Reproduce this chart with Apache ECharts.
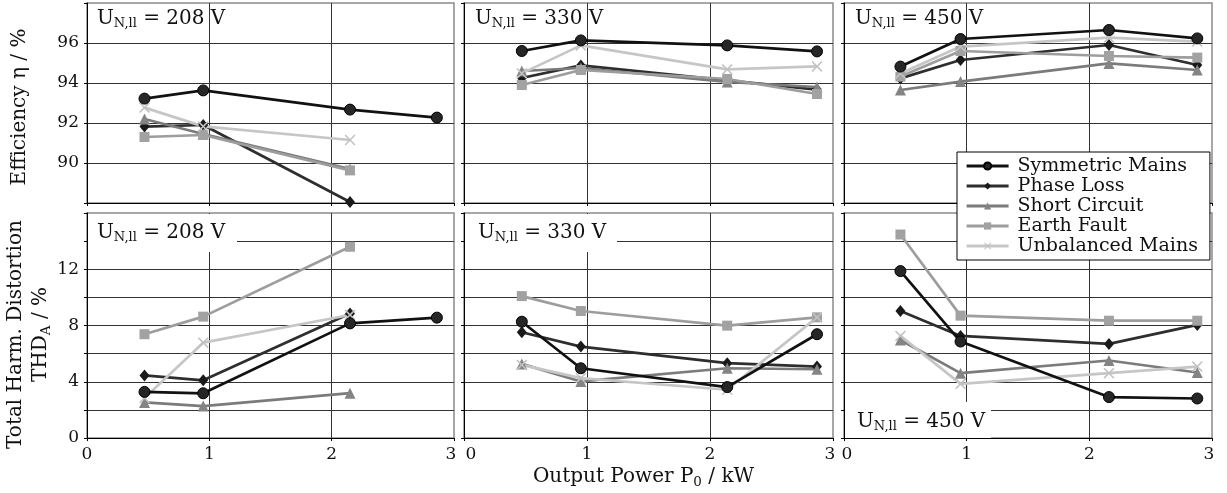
<!DOCTYPE html>
<html>
<head>
<meta charset="utf-8">
<script src="https://cdn.jsdelivr.net/npm/echarts@6/dist/echarts.min.js"></script>
<style>
  html, body { margin: 0; padding: 0; background: #fff; }
  #chart { width: 1227px; height: 493px; }
</style>
</head>
<body>
<div id="chart"></div>
<script>
// series names (legend order)
const seriesNames = ["Symmetric Mains", "Phase Loss", "Short Circuit", "Earth Fault", "Unbalanced Mains"];

// output power in kW for each mains voltage
const power208 = [0.47, 0.95, 2.15, 2.86];
const power330 = [0.47, 0.95, 2.14, 2.87];
const power450 = [0.46, 0.95, 2.16, 2.88];

// efficiency in %, one row per series
const eff208 = [
  [93.22, 93.63, 92.67, 92.27],
  [91.82, 91.9, 88.05, null],
  [92.2, 91.45, 89.7, null],
  [91.3, 91.4, 89.63, null],
  [92.77, 91.83, 91.15, null],
];
const eff330 = [
  [95.6, 96.13, 95.88, 95.58],
  [94.25, 94.88, 94.13, 93.67],
  [94.6, 94.75, 94.05, 93.8],
  [93.9, 94.65, 94.2, 93.45],
  [94.48, 95.88, 94.68, 94.83],
];
const eff450 = [
  [94.82, 96.2, 96.65, 96.23],
  [94.23, 95.15, 95.9, 94.9],
  [93.65, 94.07, 94.98, 94.65],
  [94.32, 95.6, 95.35, 95.27],
  [94.48, 95.82, 96.27, 96.07],
];

// THD of the current in %, one row per series
const thd208 = [
  [3.28, 3.18, 8.15, 8.56],
  [4.45, 4.1, 8.86, null],
  [2.53, 2.27, 3.19, null],
  [7.38, 8.63, 13.6, null],
  [2.84, 6.78, 8.75, null],
];
const thd330 = [
  [8.27, 4.96, 3.62, 7.38],
  [7.52, 6.5, 5.32, 5.08],
  [5.27, 4.02, 4.96, 4.89],
  [10.09, 9.03, 7.99, 8.58],
  [5.2, 4.26, 3.43, 8.58],
];
const thd450 = [
  [11.87, 6.86, 2.91, 2.81],
  [9.03, 7.26, 6.69, 8.04],
  [6.97, 4.61, 5.51, 4.66],
  [14.47, 8.7, 8.34, 8.34],
  [7.26, 3.85, 4.61, 5.08],
];

const voltages = ["208", "330", "450"];

// styles
const FONT = "DejaVu Serif";
const lineColors = ["#111111", "#2e2e2e", "#7b7b7b", "#9d9d9d", "#c6c6c6"];
const markerColors = ["#262626", "#1a1a1a", "#848484", "#a2a2a2", "#c2c2c2"];
const crossPath = "path://M0,1L1,0L5,4L9,0L10,1L6,5L10,9L9,10L5,6L1,10L0,9L4,5Z";
const symbols = ["circle", "diamond", "triangle", "rect", crossPath];
const symbolSizes = [11, [10, 12], 11, 10, 11];

const grids = [
  { left: 87, top: 3, width: 367, height: 200 },
  { left: 464, top: 3, width: 369, height: 200 },
  { left: 844, top: 3, width: 368, height: 200 },
  { left: 87, top: 213, width: 367, height: 225 },
  { left: 464, top: 213, width: 369, height: 225 },
  { left: 844, top: 213, width: 368, height: 225 },
];

const panels = [
  { power: power208, values: eff208 },
  { power: power330, values: eff330 },
  { power: power450, values: eff450 },
  { power: power208, values: thd208 },
  { power: power330, values: thd330 },
  { power: power450, values: thd450 },
];

const nameRich = {
  m: { fontFamily: FONT, fontSize: 20, color: "#111", lineHeight: 25 },
  s: { fontFamily: FONT, fontSize: 13.5, color: "#111", lineHeight: 11, verticalAlign: "bottom" },
};

// x tick label nudges: first / last label shift in px per panel column
const minShift = [0, 14, 6];
const maxShift = [6, 6, 6];

//坐标轴
const xAxes = grids.map((g, i) => ({
  type: "value",
  gridIndex: i,
  min: 0,
  max: 3,
  interval: 1,
  axisLine: { show: true, lineStyle: { color: "#000", width: 1 } },
  axisTick: { show: true, length: 3, lineStyle: { color: "#000" } },
  axisLabel: {
    show: i >= 3,
    margin: 8,
    formatter: (v) => (v === 0 ? "{a|0}" : v === 3 ? "{b|3}" : "{c|" + v + "}"),
    rich: {
      a: { fontFamily: FONT, fontSize: 17, color: "#111", padding: [0, 0, 0, minShift[i % 3]] },
      b: { fontFamily: FONT, fontSize: 17, color: "#111", padding: [0, maxShift[i % 3], 0, 0] },
      c: { fontFamily: FONT, fontSize: 17, color: "#111" },
    },
  },
  splitLine: { show: true, showMinLine: false, showMaxLine: false, lineStyle: { color: "#333", width: 1 } },
  name: i === 4 ? "{m|Output Power P}{s|0}{m| / kW}" : "",
  nameLocation: "middle",
  nameGap: 26,
  nameTextStyle: { rich: nameRich, padding: [0, 10, 0, 0] },
}));

const yAxes = grids.map((g, i) => {
  const top = i < 3;
  return {
    type: "value",
    gridIndex: i,
    min: top ? 88 : 0,
    max: top ? 98 : 16,
    interval: 2,
    axisLine: { show: true, lineStyle: { color: "#000", width: 1 } },
    axisTick: { show: true, length: 3, lineStyle: { color: "#000" } },
    axisLabel: {
      show: i === 0 || i === 3,
      fontFamily: FONT,
      fontSize: 17,
      color: "#111",
      margin: 8,
      formatter: top
        ? (v) => (v > 88 && v < 98 ? String(v) : "")
        : (v) => (v % 4 === 0 && v < 16 ? String(v) : ""),
    },
    splitLine: { show: true, showMinLine: false, showMaxLine: false, lineStyle: { color: "#333", width: 1 } },
    name: i === 0 ? "{m|Efficiency η / %}" : i === 3 ? "{m|Total Harm. Distortion}\n{m|THD}{s|A}{m| / %}" : "",
    nameLocation: "middle",
    nameGap: i === 0 ? 55 : 30,
    nameTextStyle: { rich: nameRich, padding: i === 0 ? [0, 8, 0, 0] : [0, 18, 0, 0] },
  };
});

//数据系列
const series = [];
panels.forEach((p, gi) => {
  p.values.forEach((row, si) => {
    series.push({
      name: seriesNames[si],
      type: "line",
      xAxisIndex: gi,
      yAxisIndex: gi,
      data: row.map((v, k) => [p.power[k], v]).filter((d) => d[1] !== null),
      symbol: symbols[si],
      symbolSize: symbolSizes[si],
      showAllSymbol: true,
      clip: false,
      z: si === 0 ? 4 : 3,
      lineStyle: { color: lineColors[si], width: 2.7 },
      itemStyle: {
        color: markerColors[si],
        borderColor: si === 0 ? "#000" : markerColors[si],
        borderWidth: si === 0 ? 1 : 0,
      },
      emphasis: { disabled: true },
    });
  });
});

//电压标签
const labelText = (v) => "{m|U}{s|N,ll}{m| = " + v + " V}";
const labelRich = {
  m: { fontFamily: FONT, fontSize: 20, fill: "#111", lineHeight: 22 },
  s: { fontFamily: FONT, fontSize: 13, fill: "#111", lineHeight: 8, verticalAlign: "bottom" },
};
const labelPos = [
  [97, 19], [475, 19], [855, 19],
  [97, 233], [478, 233], [857, 422],
];
const maskRects = [
  [88, 214, 149, 38],
  [465, 214, 152, 38],
  [845, 402, 146, 36],
];
const graphics = [];
maskRects.forEach((r) => {
  graphics.push({
    type: "rect",
    z: 5,
    shape: { x: r[0], y: r[1], width: r[2], height: r[3] },
    style: { fill: "#fff" },
  });
});
labelPos.forEach((pos, i) => {
  graphics.push({
    type: "text",
    z: 6,
    x: pos[0],
    y: pos[1],
    style: {
      text: labelText(voltages[i % 3]),
      rich: labelRich,
      verticalAlign: "middle",
      align: "left",
    },
  });
});

const chart = echarts.init(document.getElementById("chart"), null, { renderer: "canvas" });
chart.setOption({
  animation: false,
  backgroundColor: "#fff",
  grid: grids.map((g) => ({
    ...g,
    show: true,
    borderColor: "#8a8a8a",
    borderWidth: 1.5,
    backgroundColor: "transparent",
  })),
  xAxis: xAxes,
  yAxis: yAxes,
  legend: {
    data: seriesNames,
    orient: "vertical",
    left: 957,
    top: 152,
    z: 10,
    padding: [4, 12, 4, 8],
    itemGap: 0,
    itemWidth: 42,
    itemHeight: 9,
    lineStyle: { width: 3.2 },
    backgroundColor: "#fff",
    borderColor: "#000",
    borderWidth: 1,
    textStyle: { fontFamily: FONT, fontSize: 19, color: "#111", lineHeight: 20, padding: [0, 0, 0, 4] },
    selectedMode: false,
  },
  graphic: graphics,
  series: series,
});
</script>
</body>
</html>
